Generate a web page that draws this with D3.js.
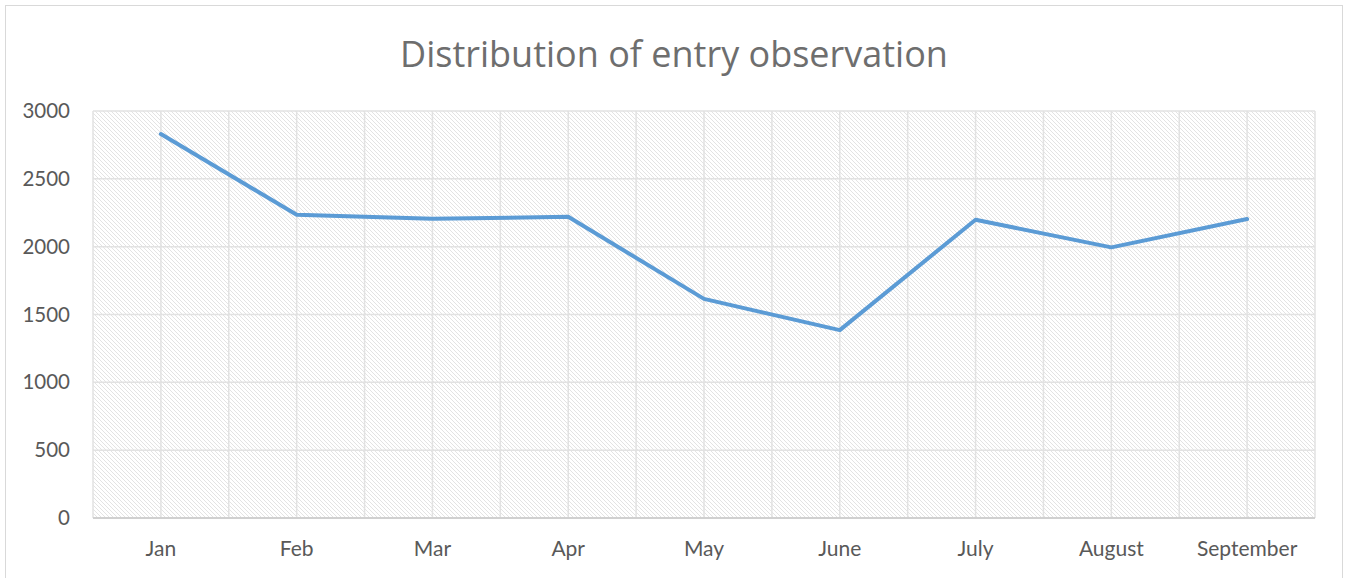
<!DOCTYPE html>
<html>
<head>
    <title>Distribution of entry observation</title>
    <script src="https://d3js.org/d3.v7.min.js"></script>
    <style>
        body { margin: 0; background: #fff; }
        text { font-family: Lato, "Open Sans", sans-serif; fill: #595959; }
        .grid line { stroke: #e2e2e2; stroke-width: 1.5; }
    </style>
</head>
<body>
<script>
    // chart data
    const months = ["Jan", "Feb", "Mar", "Apr", "May", "June", "July", "August", "September"];
    const entries = [2830, 2235, 2205, 2220, 1615, 1385, 2198, 1995, 2204];
    const yTicks = [0, 500, 1000, 1500, 2000, 2500, 3000];

    const width = 1346, height = 578;
    const margin = { top: 111, right: 31, bottom: 60, left: 93 };

    const svg = d3.select("body").append("svg")
        .attr("width", width)
        .attr("height", height);

    // diagonal hatch for the plot area
    const pat = svg.append("defs").append("pattern")
        .attr("id", "hatch")
        .attr("patternUnits", "userSpaceOnUse")
        .attr("width", 4).attr("height", 4);
    pat.append("rect").attr("width", 4).attr("height", 4).attr("fill", "#fff");
    pat.append("path")
        .attr("d", "M-1,-1 L5,5 M-1,3 L1,5 M3,-1 L5,1")
        .attr("stroke", "#e3e3e3")
        .attr("stroke-width", 1);

    // outer chart border
    svg.append("rect")
        .attr("x", 5.5).attr("y", 5.5)
        .attr("width", 1337).attr("height", 590)
        .attr("fill", "none")
        .attr("stroke", "#d9d9d9");

    svg.append("text")
        .attr("x", 674).attr("y", 67)
        .attr("text-anchor", "middle")
        .style("font-family", "'Open Sans', sans-serif")
        .style("font-size", "36px")
        .style("fill", "#6e6e6e")
        .text("Distribution of entry observation");

    const x = d3.scaleBand()
        .domain(months)
        .range([margin.left, width - margin.right]);

    const y = d3.scaleLinear()
        .domain([0, 3000])
        .range([518, margin.top]);

    const plot = svg.append("g");

    plot.append("rect")
        .attr("x", x.range()[0]).attr("y", y(3000))
        .attr("width", x.range()[1] - x.range()[0])
        .attr("height", y(0) - y(3000))
        .attr("fill", "url(#hatch)");

    // vertical gridlines at category edges and centers
    const vLines = [];
    months.forEach(m => {
        vLines.push(x(m));
        vLines.push(x(m) + x.bandwidth() / 2);
    });
    vLines.push(x.range()[1]);

    const grid = plot.append("g").attr("class", "grid");
    grid.selectAll(".v").data(vLines).join("line")
        .attr("x1", d => d).attr("x2", d => d)
        .attr("y1", y(3000)).attr("y2", y(0));
    grid.selectAll(".h").data(yTicks.slice(1)).join("line")
        .attr("x1", x.range()[0]).attr("x2", x.range()[1])
        .attr("y1", d => y(d)).attr("y2", d => y(d));

    // x axis line
    plot.append("line")
        .attr("x1", x.range()[0]).attr("x2", x.range()[1])
        .attr("y1", y(0)).attr("y2", y(0))
        .attr("stroke", "#d0d0d0")
        .attr("stroke-width", 2);

    // y axis labels
    const yAxis = svg.append("g")
        .attr("transform", `translate(${margin.left},0)`)
        .call(d3.axisLeft(y).tickValues(yTicks).tickFormat(d3.format("d")).tickSize(0).tickPadding(23));
    yAxis.select(".domain").remove();
    yAxis.selectAll("text").style("font-size", "20.5px").attr("fill", "#595959");

    // x axis labels
    const xAxis = svg.append("g")
        .attr("transform", `translate(0,${y(0)})`)
        .call(d3.axisBottom(x).tickSize(0).tickPadding(23));
    xAxis.select(".domain").remove();
    xAxis.selectAll("text").style("font-size", "21px").attr("fill", "#595959");

    const line = d3.line()
        .x((d, i) => x(months[i]) + x.bandwidth() / 2)
        .y(d => y(d));

    plot.append("path")
        .datum(entries)
        .attr("fill", "none")
        .attr("stroke", "#5b9bd5")
        .attr("stroke-width", 4)
        .attr("stroke-linejoin", "round")
        .attr("stroke-linecap", "round")
        .attr("d", line);
</script>
</body>
</html>
